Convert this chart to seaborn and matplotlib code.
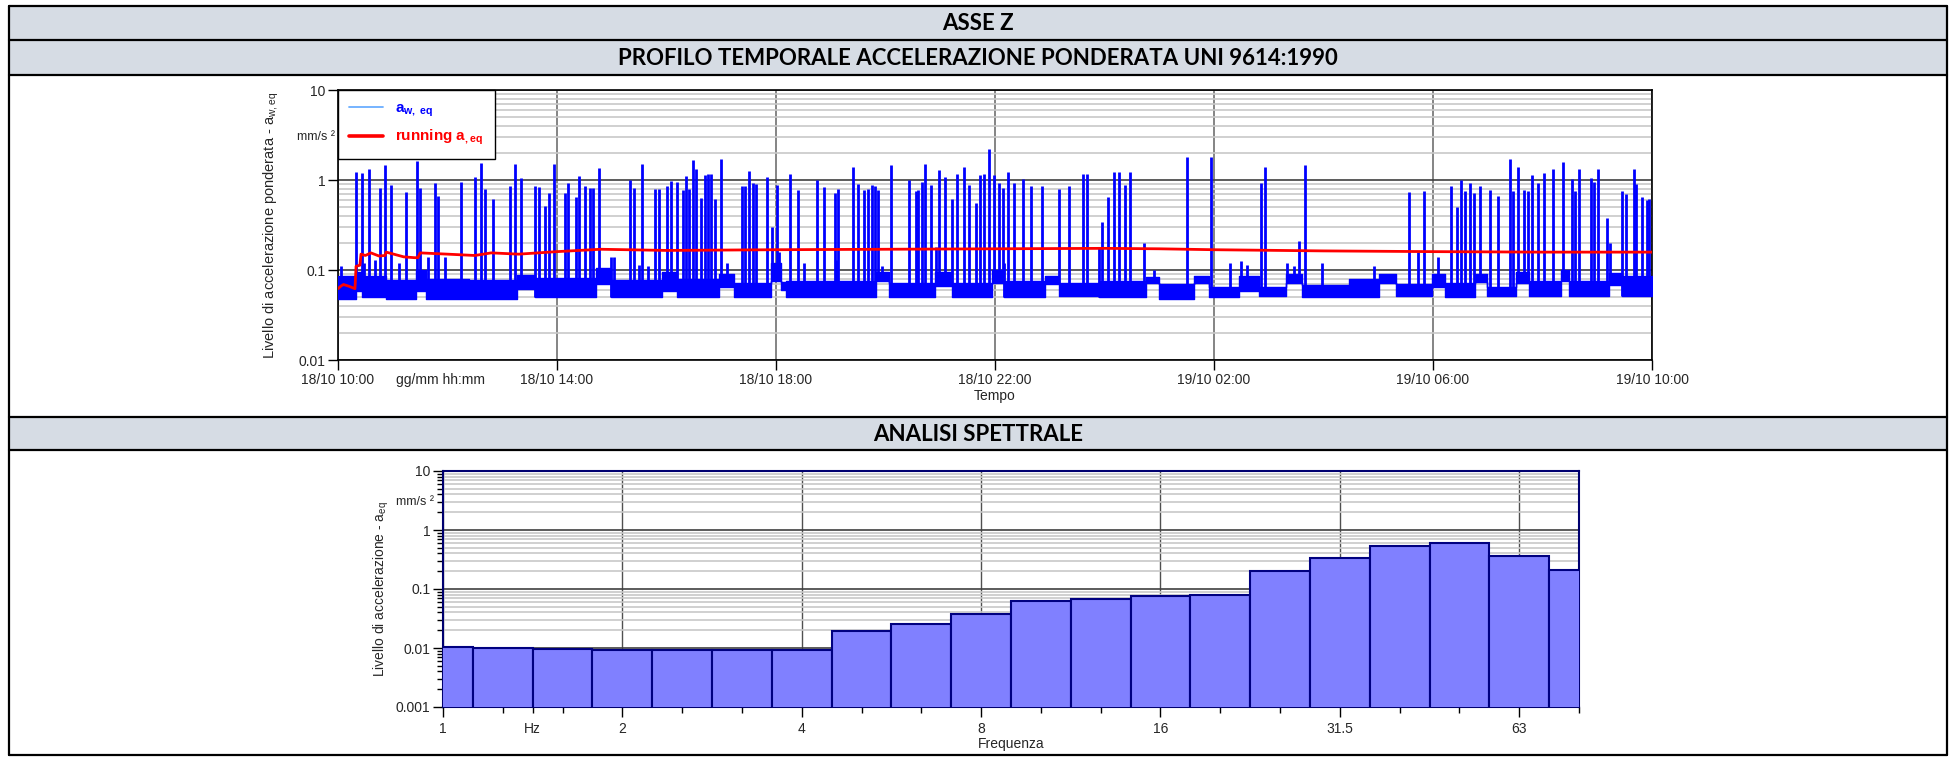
import numpy as np
import pandas as pd
import matplotlib
matplotlib.use("Agg")
import matplotlib.pyplot as plt
import seaborn as sns
from matplotlib.lines import Line2D
from matplotlib.patches import Rectangle
from matplotlib.ticker import FixedLocator, NullFormatter

# ---------------- DATA ----------------
# time axis: hours after 18/10 10:00
time_tick_hours = [0, 4, 8, 12, 16, 20, 24]
time_tick_labels = ["18/10 10:00", "18/10 14:00", "18/10 18:00", "18/10 22:00",
                    "19/10 02:00", "19/10 06:00", "19/10 10:00"]

# baseline (background level) of a_w,eq : segment start, end, low, high  [mm/s2]
seg_start = [0.00, 0.32, 0.44, 0.87, 1.42, 1.60, 2.40, 3.27, 3.60, 4.71, 4.98, 5.92, 6.20, 6.96,
             7.23, 7.90, 8.09, 8.18, 9.82, 10.07, 10.90, 11.22, 11.95, 12.16, 12.92, 13.17,
             13.90, 14.75, 15.00, 15.64, 15.91, 16.46, 16.83, 17.31, 17.61, 18.47, 19.01,
             19.32, 19.98, 20.22, 20.77, 20.99, 21.51, 21.75, 22.33, 22.48, 23.21, 23.46]
seg_end = seg_start[1:] + [24.0]
seg_low = [0.048, 0.058, 0.050, 0.048, 0.058, 0.048, 0.048, 0.062, 0.050, 0.070, 0.050, 0.058, 0.050, 0.064,
           0.050, 0.075, 0.060, 0.050, 0.076, 0.050, 0.066, 0.050, 0.072, 0.050, 0.070, 0.051,
           0.050, 0.072, 0.048, 0.072, 0.050, 0.058, 0.051, 0.072, 0.050, 0.050, 0.072,
           0.051, 0.064, 0.050, 0.074, 0.051, 0.072, 0.051, 0.076, 0.051, 0.068, 0.052]
seg_high = [0.085, 0.095, 0.085, 0.078, 0.100, 0.080, 0.078, 0.088, 0.082, 0.105, 0.078, 0.095, 0.080, 0.090,
            0.072, 0.120, 0.073, 0.075, 0.095, 0.072, 0.095, 0.072, 0.100, 0.075, 0.085, 0.072,
            0.075, 0.083, 0.070, 0.085, 0.065, 0.085, 0.065, 0.090, 0.068, 0.080, 0.090,
            0.070, 0.090, 0.072, 0.090, 0.065, 0.095, 0.075, 0.100, 0.075, 0.092, 0.085]

# peaks of a_w,eq : time [h], value [mm/s2]
spike_h = [0.05, 0.32, 0.43, 0.47, 0.57, 0.67, 0.77, 0.85, 0.96, 1.12, 1.24, 1.44, 1.50, 1.65, 1.77, 1.82,
           1.95, 2.24, 2.50, 2.61, 2.68, 2.83, 3.14, 3.23, 3.34, 3.60, 3.67, 3.78, 3.85, 3.95,
           4.15, 4.20, 4.34, 4.41, 4.52, 4.61, 4.66, 4.77, 4.98, 5.04,
           5.33, 5.41, 5.49, 5.56, 5.66, 5.79, 5.86, 6.00, 6.08, 6.19, 6.30, 6.35, 6.41, 6.48, 6.53,
           6.63, 6.70, 6.75, 6.81, 6.88, 6.99, 7.11, 7.38, 7.43, 7.51, 7.58, 7.63, 7.84, 7.92, 8.01,
           8.06, 8.26, 8.40, 8.51, 8.75, 8.88, 9.07, 9.09, 9.14, 9.41, 9.49, 9.61, 9.68, 9.75, 9.80,
           9.86, 9.93, 10.10, 10.43, 10.55, 10.60, 10.66, 10.72, 10.84, 10.92, 10.98, 11.09, 11.21,
           11.31, 11.44, 11.52, 11.66, 11.72, 11.80, 11.89, 11.98, 12.07, 12.14, 12.17, 12.23,
           12.34, 12.51, 12.66, 12.86, 13.16, 13.35, 13.60, 13.68, 13.90,
           13.95, 14.07, 14.17, 14.27, 14.37, 14.46, 14.73, 14.90, 15.51, 15.94, 16.29, 16.49,
           16.61, 16.86, 16.94, 17.34, 17.46, 17.55, 17.66, 17.97, 18.92, 19.56, 19.73, 19.84,
           20.09, 20.32, 20.43, 20.51, 20.58, 20.68, 20.74, 20.85,
           21.05, 21.19, 21.40, 21.47, 21.56, 21.66, 21.74, 21.80, 21.92, 22.02, 22.19, 22.37,
           22.53, 22.59, 22.66, 22.89, 22.94, 23.02, 23.17, 23.24, 23.46, 23.53, 23.67, 23.70,
           23.81, 23.90, 23.95]
spike_v = [0.11, 1.23, 1.20, 0.12, 1.32, 0.13, 0.82, 1.46, 0.87, 0.12, 0.74, 1.62, 0.82, 0.14, 0.92, 0.67,
           0.14, 0.96, 1.07, 1.56, 0.80, 0.62, 0.86, 1.52, 1.04, 0.85, 0.83, 0.51, 0.72, 1.52,
           0.72, 0.93, 0.64, 1.10, 0.85, 0.81, 0.82, 1.35, 0.14, 0.14,
           1.00, 0.82, 0.115, 1.50, 0.11, 0.79, 0.79, 0.85, 0.98, 0.96, 0.77, 1.12, 0.79, 1.65, 1.33,
           0.63, 1.14, 1.16, 1.16, 0.62, 1.69, 0.12, 0.85, 0.85, 1.25, 0.92, 0.91, 1.08, 0.30, 0.88,
           0.16, 1.17, 0.78, 0.12, 1.00, 0.84, 0.72, 0.13, 0.79, 1.40, 0.91, 0.77, 0.79, 0.88, 0.86,
           0.77, 0.11, 1.47, 1.00, 0.76, 0.78, 0.96, 1.52, 0.88, 0.18, 1.30, 1.07, 0.61,
           1.16, 1.40, 0.88, 0.56, 1.14, 1.16, 2.19, 1.14, 0.92, 0.82, 0.12, 1.22,
           0.92, 1.03, 0.85, 0.86, 0.79, 0.85, 1.17, 1.16, 0.18,
           0.34, 0.64, 1.22, 1.22, 0.88, 1.22, 0.20, 0.10, 1.80, 1.81, 0.12, 0.125,
           0.115, 0.92, 1.38, 0.12, 0.11, 0.21, 1.47, 0.12, 0.11, 0.73, 0.16, 0.75,
           0.14, 0.86, 0.50, 1.01, 0.75, 0.92, 0.72, 0.86,
           0.78, 0.66, 1.73, 0.75, 1.40, 0.78, 0.75, 1.13, 0.93, 1.20, 1.32, 1.59,
           1.03, 0.75, 1.33, 1.06, 0.94, 1.31, 0.38, 0.20, 0.76, 0.70, 1.31, 0.90,
           0.65, 0.60, 0.62]

# running a_eq
run_h = [0.00, 0.05, 0.10, 0.20, 0.31, 0.33, 0.40, 0.42, 0.50, 0.60, 0.75, 0.86, 0.88, 1.20, 1.40,
         1.46, 1.50, 2.00, 2.50, 2.80, 3.30, 4.00, 4.80, 6.00, 8.00, 10.00, 12.00, 14.00, 15.00,
         16.00, 18.00, 20.00, 22.00, 24.00]
run_v = [0.062, 0.066, 0.069, 0.066, 0.062, 0.110, 0.113, 0.150, 0.145, 0.155, 0.143, 0.145, 0.158,
         0.140, 0.137, 0.137, 0.155, 0.150, 0.145, 0.155, 0.150, 0.160, 0.170, 0.165, 0.168, 0.170,
         0.172, 0.174, 0.172, 0.168, 0.163, 0.160, 0.158, 0.158]

# 1/3 octave spectrum
band_names = ["1", "1.25", "1.6", "2", "2.5", "3.15", "4", "5", "6.3", "8", "10", "12.5",
              "16", "20", "25", "31.5", "40", "50", "63", "80"]
spec_vals = [0.0105, 0.0101, 0.0096, 0.0094, 0.0091, 0.0091, 0.0091, 0.0194, 0.0251, 0.0384,
             0.0628, 0.0687, 0.0762, 0.0780, 0.199, 0.337, 0.537, 0.596, 0.365, 0.212]
freq_tick_labels = ["1", "2", "4", "8", "16", "31.5", "63"]

# ---------------- STYLE ----------------
sns.set_theme(style="white")
plt.rcParams['font.family'] = ['Liberation Sans Narrow', 'Liberation Sans', 'DejaVu Sans']
plt.rcParams['mathtext.fontset'] = 'custom'
plt.rcParams['mathtext.rm'] = 'Liberation Sans'
plt.rcParams['mathtext.bf'] = 'Liberation Sans:bold'
plt.rcParams['mathtext.it'] = 'Liberation Sans:italic'

W, H = 1953, 765
fig = plt.figure(figsize=(W / 100, H / 100), dpi=100)
fig.patch.set_facecolor('white')


def fx(x):
    return x / W


def fy(y):
    return 1 - y / H


# header bands
FL, FR = 9, 1947
for y0, y1, txt in [(6, 40, "ASSE Z"),
                    (40, 75, "PROFILO TEMPORALE ACCELERAZIONE PONDERATA UNI 9614:1990"),
                    (417, 450, "ANALISI SPETTRALE")]:
    fig.patches.append(Rectangle((fx(FL), fy(y1)), fx(FR) - fx(FL), (y1 - y0) / H,
                                 transform=fig.transFigure, facecolor='#D6DCE4',
                                 edgecolor='none', zorder=0))
    fig.text(fx((FL + FR) / 2), fy((y0 + y1) / 2 + 1), txt, ha='center', va='center',
             fontsize=16, fontweight='bold', family=['Lato', 'DejaVu Sans'], color='black')
for y in [6, 40, 75, 417, 450, 755]:
    fig.lines.append(Line2D([fx(FL), fx(FR)], [fy(y), fy(y)], transform=fig.transFigure,
                            color='black', lw=1.6))
for x in [FL, FR]:
    fig.lines.append(Line2D([fx(x), fx(x)], [fy(6), fy(755)], transform=fig.transFigure,
                            color='black', lw=1.6))

TICK_FS = 10

# ---------------- CHART 1 ----------------
ax1 = fig.add_axes([fx(338), fy(360), (1652 - 338) / W, (360 - 90) / H])
ax1.set_yscale('log')
ax1.set_xlim(0, 24)
ax1.set_ylim(0.01, 10)

xs, lo, hi = [], [], []
for s, e, l, h in zip(seg_start, seg_end, seg_low, seg_high):
    xs += [s, e]
    lo += [l, l]
    hi += [h, h]
ax1.fill_between(xs, lo, hi, color='#0000ff', lw=1.0, edgecolor='#0000ff', zorder=3)

base = []
for t in spike_h:
    for s, e, l in zip(seg_start, seg_end, seg_low):
        if s <= t < e:
            base.append(l)
            break
ax1.vlines(spike_h, base, spike_v, color='#0000ff', lw=2.0, zorder=3)

run_df = pd.DataFrame({"t": run_h, "v": run_v})
sns.lineplot(data=run_df, x="t", y="v", ax=ax1, color='#ff0000', lw=2.0, zorder=4,
             legend=False)

ax1.set_xticks(time_tick_hours)
ax1.set_xticklabels(time_tick_labels)
ax1.yaxis.set_major_locator(FixedLocator([0.01, 0.1, 1, 10]))
ax1.set_yticklabels(["0.01", "0.1", "1", "10"])
minors = [m * d for d in [0.01, 0.1, 1] for m in range(2, 10)]
ax1.yaxis.set_minor_locator(FixedLocator(minors))
ax1.yaxis.set_minor_formatter(NullFormatter())
ax1.tick_params(axis='both', which='major', direction='out', length=7, width=1,
                color='black', labelsize=TICK_FS, pad=2, bottom=True, left=True)
ax1.tick_params(axis='y', which='minor', direction='out', length=0, left=False)
ax1.grid(which='major', axis='y', color='#404040', lw=1.2)
ax1.grid(which='minor', axis='y', color='#c8c8c8', lw=1.2)
ax1.grid(which='major', axis='x', color='#707070', lw=1.2)
ax1.set_axisbelow(True)
ax1.set_xlabel("")
ax1.set_ylabel("")
for sp in ax1.spines.values():
    sp.set_color('black')
    sp.set_linewidth(1.2)

handles = [Line2D([], [], color='#6aaeff', lw=1.3), Line2D([], [], color='#ff0000', lw=2.6)]
labels = [r'$\mathbf{a}_{\mathbf{w,\ eq}}$', r'running $\mathbf{a}_{\mathbf{,eq}}$']
leg = ax1.legend(handles, labels, loc='upper left', bbox_to_anchor=(0, 1), borderaxespad=0,
                 frameon=True, fancybox=False, edgecolor='black', framealpha=1,
                 prop={'weight': 'bold', 'size': 11, 'family': 'Liberation Sans'},
                 handlelength=2.2, labelspacing=0.6, borderpad=0.75, handletextpad=0.8)
leg.get_frame().set_linewidth(1.0)
for t, c in zip(leg.get_texts(), ['#0000ff', '#ff0000']):
    t.set_color(c)

fig.text(fx(271), fy(225), r'Livello di accelerazione ponderata - a$_\mathrm{w,eq}$',
         rotation=90, ha='center', va='center', fontsize=10.5)
fig.text(fx(316), fy(137), 'mm/s ²', ha='center', va='center', fontsize=9)
fig.text(fx(440), fy(380), 'gg/mm hh:mm', ha='center', va='center', fontsize=TICK_FS)
fig.text(fx(995), fy(396), 'Tempo', ha='center', va='center', fontsize=10)

# ---------------- CHART 2 ----------------
ax2 = fig.add_axes([fx(443), fy(707), (1579 - 443) / W, (707 - 471) / H])
k = np.arange(len(band_names))
centers = 2.0 ** (k / 3)
left = 2.0 ** ((k - 0.5) / 3)
right = 2.0 ** ((k + 0.5) / 3)
ax2.set_xscale('log', base=2)
ax2.set_yscale('log')
ax2.bar(left, np.array(spec_vals) - 1e-4, width=right - left, bottom=1e-4, align='edge',
        color='#8080ff', edgecolor='#000080', lw=1.5, zorder=3)
ax2.set_xlim(1, centers[-1])
ax2.set_ylim(0.001, 10)
oct_pos = [2.0 ** i for i in range(7)]
ax2.xaxis.set_major_locator(FixedLocator(oct_pos))
ax2.set_xticklabels(freq_tick_labels)
ax2.xaxis.set_minor_locator(FixedLocator(list(centers) + [2 ** 0.5]))
ax2.xaxis.set_minor_formatter(NullFormatter())
ax2.yaxis.set_major_locator(FixedLocator([0.001, 0.01, 0.1, 1, 10]))
ax2.set_yticklabels(["0.001", "0.01", "0.1", "1", "10"])
minors2 = [m * d for d in [0.001, 0.01, 0.1, 1] for m in range(2, 10)]
ax2.yaxis.set_minor_locator(FixedLocator(minors2))
ax2.yaxis.set_minor_formatter(NullFormatter())
ax2.tick_params(axis='both', which='major', direction='out', length=7, width=1,
                color='black', labelsize=TICK_FS, pad=2, bottom=True, left=True)
ax2.tick_params(axis='x', which='major', pad=4)
ax2.tick_params(axis='both', which='minor', direction='out', length=4, width=1,
                color='black', bottom=True, left=True)
ax2.grid(which='major', axis='y', color='#404040', lw=1.2)
ax2.grid(which='minor', axis='y', color='#c8c8c8', lw=1.2)
ax2.grid(which='major', axis='x', color='#505050', lw=1.0)
ax2.set_axisbelow(True)
for sp in ax2.spines.values():
    sp.set_color('#000070')
    sp.set_linewidth(1.5)

ax2.text(2 ** 0.5, -0.095, 'Hz', transform=ax2.get_xaxis_transform(), ha='center',
         va='center', fontsize=TICK_FS)
fig.text(fx(381), fy(589), r'Livello di accelerazione - a$_\mathrm{eq}$',
         rotation=90, ha='center', va='center', fontsize=10)
fig.text(fx(415), fy(502), 'mm/s ²', ha='center', va='center', fontsize=9)
fig.text(fx(1011), fy(744), 'Frequenza', ha='center', va='center', fontsize=10)

fig.savefig('out.png', dpi=100, facecolor='white')
